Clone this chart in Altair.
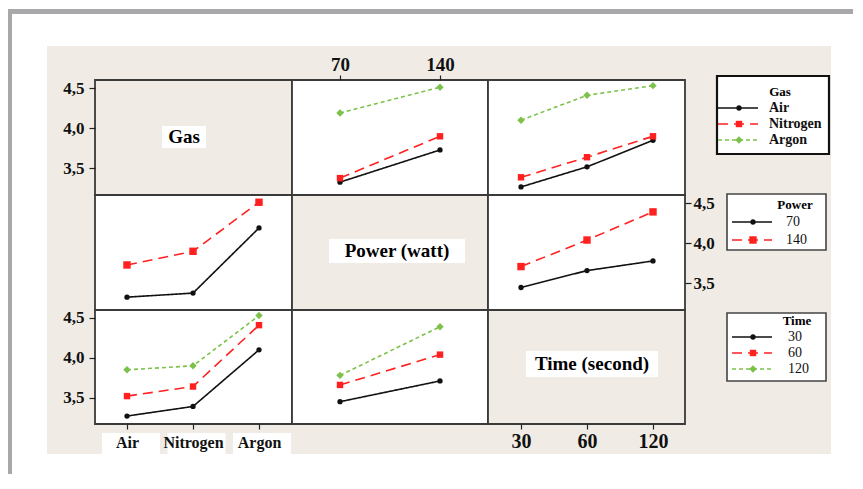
import altair as alt
import pandas as pd

# ---------------- data ----------------
gas_levels = ["Air", "Nitrogen", "Argon"]
power_levels = ["70", "140"]
time_levels = ["30", "60", "120"]
factor_names = ["Gas", "Power (watt)", "Time (second)"]
legend_titles = ["Gas", "Power", "Time"]
y_ticks = [3.5, 4.0, 4.5]

# mean response, Gas x Power
air_by_power = [3.33, 3.73]
nitrogen_by_power = [3.38, 3.90]
argon_by_power = [4.19, 4.51]
# mean response, Gas x Time
air_by_time = [3.27, 3.52, 3.85]
nitrogen_by_time = [3.39, 3.64, 3.90]
argon_by_time = [4.10, 4.41, 4.53]
# mean response, Power x Time
power70_by_time = [3.45, 3.66, 3.78]
power140_by_time = [3.71, 4.04, 4.39]

gas_power = [air_by_power, nitrogen_by_power, argon_by_power]
gas_time = [air_by_time, nitrogen_by_time, argon_by_time]
power_time = [power70_by_time, power140_by_time]


def long_table(table, row_levels, col_levels, series_is_row=True):
    recs = []
    for i, r in enumerate(row_levels):
        for j, c in enumerate(col_levels):
            v = table[i][j]
            if series_is_row:
                recs.append({"series": r, "x": c, "idx": j, "value": v})
            else:
                recs.append({"series": c, "x": r, "idx": i, "value": v})
    return pd.DataFrame(recs)


# ---------------- layout / style ----------------
W, H = 845, 466
OFF = 8


def px(v):
    return v - OFF


col_edges = [95, 292, 488, 685]
row_edges = [80, 195, 310, 424]
x_span = {"gas": (127, 259), "power": (340, 440), "time": (521, 653)}
Y_DOMAIN = [3.17, 4.60]
BEIGE = "#f0ece5"
FONT = "Liberation Serif"
LINE_COLORS = ["#111111", "#ff2020", "#7cc24a"]
DASHES = [[1, 0], [10, 6], [4, 3]]
SHAPES = ["circle", "square", "diamond"]
SIZES = [28, 55, 70]
tick_fmt = "replace(format(datum.value, '.1f'), '.', ',')"
one = pd.DataFrame({"k": [0]})


def y_axis(orient, offset, size, pad):
    return alt.Axis(orient=orient, offset=offset, values=y_ticks, labelExpr=tick_fmt,
                    title=None, grid=False, domain=False, ticks=True, tickSize=6,
                    tickColor="#222222", tickWidth=1.2, labelFont=FONT,
                    labelFontWeight="bold", labelFontSize=size, labelColor="#111111",
                    labelPadding=pad, zindex=2)


def x_axis(orient, offset, size, pad):
    return alt.Axis(orient=orient, offset=offset, title=None, grid=False, domain=False,
                    ticks=True, tickSize=5, tickColor="#222222", tickWidth=1.2,
                    labelFont=FONT, labelFontWeight="bold", labelFontSize=size,
                    labelColor="#111111", labelPadding=pad, labelAngle=0, zindex=2)


def panel(df, xkey, xlevels, row, slevels, xaxis=None, yaxis=None):
    n = len(slevels)
    x0, x1 = x_span[xkey]
    xs = alt.Scale(type="point", domain=xlevels, range=[px(x0), px(x1)], padding=0)
    ys = alt.Scale(domain=Y_DOMAIN, range=[px(row_edges[row + 1]), px(row_edges[row])],
                   nice=False, zero=False)
    base = alt.Chart(df).encode(
        x=alt.X("x:N", scale=xs, sort=xlevels, axis=xaxis),
        y=alt.Y("value:Q", scale=ys, axis=yaxis),
        color=alt.Color("series:N", scale=alt.Scale(domain=slevels, range=LINE_COLORS[:n]),
                        legend=None),
        order=alt.Order("idx:Q"),
    )
    lines = base.mark_line(strokeWidth=1.6).encode(
        strokeDash=alt.StrokeDash("series:N", scale=alt.Scale(domain=slevels, range=DASHES[:n]),
                                  legend=None))
    pts = base.mark_point(filled=True, opacity=1).encode(
        shape=alt.Shape("series:N", scale=alt.Scale(domain=slevels, range=SHAPES[:n]), legend=None),
        size=alt.Size("series:N", scale=alt.Scale(domain=slevels, range=SIZES[:n]), legend=None))
    return alt.layer(lines, pts)


# ---------------- background ----------------
beige_bg = alt.Chart(one).mark_rect(color=BEIGE).encode(
    x=alt.value(px(47)), x2=alt.value(px(831)), y=alt.value(px(46)), y2=alt.value(px(454)))
gray_top = alt.Chart(one).mark_rect(color="#a8a8ab").encode(
    x=alt.value(0), x2=alt.value(W), y=alt.value(px(9)), y2=alt.value(px(14)))
gray_left = alt.Chart(one).mark_rect(color="#a8a8ab").encode(
    x=alt.value(0), x2=alt.value(4), y=alt.value(px(9)), y2=alt.value(H))

frame_recs = []
for r in range(3):
    for c in range(3):
        frame_recs.append({"x0": px(col_edges[c]), "x1": px(col_edges[c + 1]),
                           "y0": px(row_edges[r]), "y1": px(row_edges[r + 1]),
                           "fill": BEIGE if r == c else "white"})
frames = alt.Chart(pd.DataFrame(frame_recs)).mark_rect(stroke="#3a3a3a", strokeWidth=1.8).encode(
    x=alt.X("x0:Q", scale=None, axis=None), x2="x1:Q",
    y=alt.Y("y0:Q", scale=None, axis=None), y2="y1:Q",
    fill=alt.Fill("fill:N", scale=None, legend=None))

# diagonal factor names
diag_centers = [(184, 137), (397, 251), (592, 364)]
diag_box = [(44, 22), (136, 24), (132, 26)]
diag_recs = []
for name, (cx, cy), (bw, bh) in zip(factor_names, diag_centers, diag_box):
    diag_recs.append({"name": name, "cx": px(cx), "cy": px(cy),
                      "x0": px(cx - bw / 2), "x1": px(cx + bw / 2),
                      "y0": px(cy - bh / 2), "y1": px(cy + bh / 2)})
diag_df = pd.DataFrame(diag_recs)
diag_boxes = alt.Chart(diag_df).mark_rect(color="white").encode(
    x=alt.X("x0:Q", scale=None, axis=None), x2="x1:Q",
    y=alt.Y("y0:Q", scale=None, axis=None), y2="y1:Q")
diag_text = alt.Chart(diag_df).mark_text(font=FONT, fontWeight="bold", fontSize=19,
                                         align="center", baseline="middle", color="black").encode(
    x=alt.X("cx:Q", scale=None, axis=None), y=alt.Y("cy:Q", scale=None, axis=None), text="name:N")

# white boxes behind the Gas tick labels
gas_label_boxes = alt.Chart(pd.DataFrame({"x": gas_levels})).mark_bar(width=58, color="white").encode(
    x=alt.X("x:N", scale=alt.Scale(type="point", domain=gas_levels, range=[px(131), px(262)], padding=0),
            sort=gas_levels, axis=None),
    y=alt.value(px(433)), y2=alt.value(px(454)))

# ---------------- panels ----------------
p12 = panel(long_table(gas_power, gas_levels, power_levels, True), "power", power_levels, 0, gas_levels,
            xaxis=x_axis("top", -px(80), 19, 1), yaxis=y_axis("left", -px(95), 17, 5))
p13 = panel(long_table(gas_time, gas_levels, time_levels, True), "time", time_levels, 0, gas_levels)
p21 = panel(long_table(gas_power, gas_levels, power_levels, False), "gas", gas_levels, 1, power_levels)
p23 = panel(long_table(power_time, power_levels, time_levels, True), "time", time_levels, 1, power_levels,
            xaxis=x_axis("bottom", px(424) - H, 20, 2), yaxis=y_axis("right", px(685) - W, 17, 2))
p31 = panel(long_table(gas_time, gas_levels, time_levels, False), "gas", gas_levels, 2, time_levels,
            xaxis=x_axis("bottom", px(424) - H, 16, 5), yaxis=y_axis("left", -px(95), 17, 5))
p32 = panel(long_table(power_time, power_levels, time_levels, False), "power", power_levels, 2, time_levels)


# ---------------- legends ----------------
def legend(levels, title, box, title_xy, y_first, y_last, line_x, marker_x, label_x,
           bold, box_stroke, box_sw):
    n = len(levels)
    bx0, by0, bx1, by1 = box
    frame = alt.Chart(one).mark_rect(fill="white", stroke=box_stroke, strokeWidth=box_sw).encode(
        x=alt.value(px(bx0)), x2=alt.value(px(bx1)), y=alt.value(px(by0)), y2=alt.value(px(by1)))
    ttl = alt.Chart(pd.DataFrame({"t": [title]})).mark_text(
        font=FONT, fontWeight="bold", fontSize=13, align="center", baseline="middle", color="black").encode(
        x=alt.value(px(title_xy[0])), y=alt.value(px(title_xy[1])), text="t:N")
    df = pd.DataFrame({"series": levels})
    ys = alt.Scale(type="point", domain=levels, range=[px(y_first), px(y_last)], padding=0)
    enc_y = alt.Y("series:N", scale=ys, axis=None, sort=levels)
    color = alt.Color("series:N", scale=alt.Scale(domain=levels, range=LINE_COLORS[:n]), legend=None)
    rules = alt.Chart(df).mark_rule(strokeWidth=1.6).encode(
        y=enc_y, x=alt.value(px(line_x[0])), x2=alt.value(px(line_x[1])), color=color,
        strokeDash=alt.StrokeDash("series:N", scale=alt.Scale(domain=levels, range=DASHES[:n]), legend=None))
    marks = alt.Chart(df).mark_point(filled=True, opacity=1).encode(
        y=enc_y, x=alt.value(px(marker_x)), color=color,
        shape=alt.Shape("series:N", scale=alt.Scale(domain=levels, range=SHAPES[:n]), legend=None),
        size=alt.Size("series:N", scale=alt.Scale(domain=levels, range=SIZES[:n]), legend=None))
    labels = alt.Chart(df).mark_text(font=FONT, fontWeight="bold" if bold else "normal", fontSize=14,
                                     align="left", baseline="middle", color="#111111").encode(
        y=enc_y, x=alt.value(px(label_x)), text="series:N")
    return alt.layer(frame, ttl, rules, marks, labels)


leg_gas = legend(gas_levels, legend_titles[0], (717, 76, 829, 154), (780, 92), 108, 140,
                 (718, 758), 739, 769, True, "#111111", 2.2)
leg_power = legend(power_levels, legend_titles[1], (727, 194, 826, 250), (795, 205), 222, 240,
                   (732, 772), 753, 786, False, "#444444", 1.6)
leg_time = legend(time_levels, legend_titles[2], (727, 313, 826, 381), (797, 321), 337, 369,
                  (732, 772), 753, 788, False, "#444444", 1.6)

chart = alt.layer(
    beige_bg, gray_top, gray_left, frames, diag_boxes, diag_text, gas_label_boxes,
    p12, p13, p21, p23, p31, p32, leg_gas, leg_power, leg_time,
).resolve_scale(
    x="independent", y="independent", color="independent", strokeDash="independent",
    shape="independent", size="independent", fill="independent",
).resolve_axis(
    x="independent", y="independent",
).properties(
    width=W, height=H, padding=0, autosize=alt.AutoSizeParams(type="none"), background="white",
).configure_view(stroke=None)

chart.save("out.html", embed_options={"renderer": "svg", "actions": False})
